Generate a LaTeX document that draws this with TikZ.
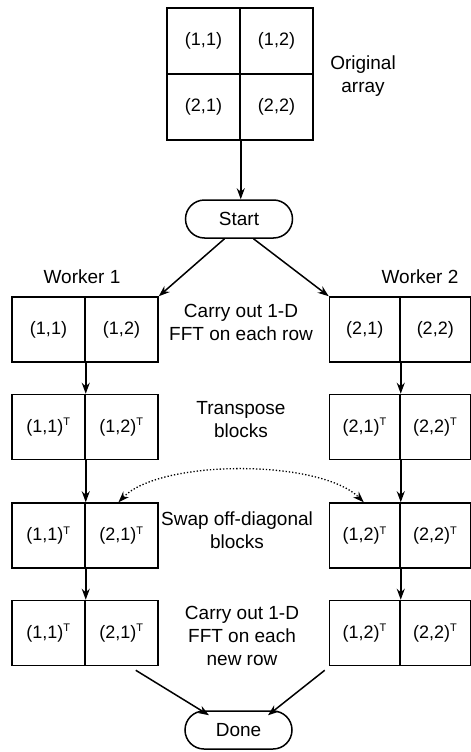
\documentclass[tikz,border=0pt]{standalone}
\usepackage{fontspec}
\setmainfont{Liberation Sans}
\usetikzlibrary{arrows.meta,shapes.misc}
\begin{document}
\begin{tikzpicture}[x=1pt,y=-1pt,
 cell/.style={draw,line width=1.5pt,minimum width=73pt,minimum height=65pt,inner sep=0pt,font=\fontsize{18}{21}\selectfont},
 rcell/.style={cell,minimum width=70.5pt},
 acell/.style={cell,minimum height=66pt},
 term/.style={draw,line width=1.5pt,rounded rectangle,minimum width=107pt,minimum height=38pt,inner sep=0pt,font=\fontsize{19}{22}\selectfont},
 lbl/.style={align=center,font=\fontsize{19}{23}\selectfont},
 arr/.style={line width=1.5pt,-{Stealth[length=11pt,width=8pt]}},
 swap/.style={line width=1.3pt,dotted,{Stealth[length=11pt,width=8pt]}-{Stealth[length=11pt,width=8pt]}},
]
\useasboundingbox (0,0) rectangle (471,752);
\newcommand{\tsup}{\textsuperscript{\fontsize{11}{11}\selectfont T}}
% original array
\node[acell] (a11) at (203.5,41) {(1,1)};
\node[acell] (a12) at (276.5,41) {(1,2)};
\node[acell] (a21) at (203.5,107) {(2,1)};
\node[acell] (a22) at (276.5,107) {(2,2)};
\node[lbl] (orig) at (363,76) {Original\\array};
% start / done
\node[term] (start) at (239,219) {Start};
\node[term] (done) at (238.5,730) {Done};
% worker labels
\node[lbl] (wk1) at (82,277) {Worker 1};
\node[lbl] (wk2) at (420,277) {Worker 2};
% row 1
\node[cell] (l1a) at (48.5,329.5) {(1,1)};
\node[cell] (l1b) at (121.5,329.5) {(1,2)};
\node[rcell] (r1a) at (364.75,329.5) {(2,1)};
\node[rcell] (r1b) at (435.25,329.5) {(2,2)};
\node[lbl] (t1) at (241,322) {Carry out 1-D\\FFT on each row};
% row 2
\node[cell] (l2a) at (48.5,427) {(1,1)\tsup};
\node[cell] (l2b) at (121.5,427) {(1,2)\tsup};
\node[rcell] (r2a) at (364.75,427) {(2,1)\tsup};
\node[rcell] (r2b) at (435.25,427) {(2,2)\tsup};
\node[lbl] (t2) at (241,420) {Transpose\\blocks};
% row 3
\node[cell] (l3a) at (48.5,535.5) {(1,1)\tsup};
\node[cell] (l3b) at (121.5,535.5) {(2,1)\tsup};
\node[rcell] (r3a) at (364.75,535.5) {(1,2)\tsup};
\node[rcell] (r3b) at (435.25,535.5) {(2,2)\tsup};
\node[lbl] (t3) at (237,530) {Swap off-diagonal\\blocks};
% row 4
\node[cell] (l4a) at (48.5,633) {(1,1)\tsup};
\node[cell] (l4b) at (121.5,633) {(2,1)\tsup};
\node[rcell] (r4a) at (364.75,633) {(1,2)\tsup};
\node[rcell] (r4b) at (435.25,633) {(2,2)\tsup};
\node[lbl] (t4) at (242,636) {Carry out 1-D\\FFT on each\\new row};
% arrows
\draw[arr] (a21.south east) -- (a21.south east |- start.north);
\draw[arr] ([xshift=20pt]start.south west) -- (l1b.north east);
\draw[arr] ([xshift=-20pt]start.south east) -- (r1a.north west);
\draw[arr] (l1a.south east) -- (l2a.north east);
\draw[arr] (r1a.south east) -- (r2a.north east);
\draw[arr] (l2a.south east) -- (l3a.north east);
\draw[arr] (r2a.south east) -- (r3a.north east);
\draw[arr] (l3a.south east) -- (l4a.north east);
\draw[arr] (r3a.south east) -- (r4a.north east);
\draw[arr] ([xshift=-23pt,yshift=-4pt]l4b.south east) -- ([xshift=5pt,yshift=-5pt]done.north west);
\draw[arr] ([xshift=-4pt,yshift=-4pt]r4a.south west) -- ([xshift=-5pt,yshift=-5pt]done.north east);
\draw[swap] ([xshift=-3pt]l3b.north) .. controls (160,459) and (320,459) .. ([xshift=-1pt]r3a.north);
\end{tikzpicture}
\end{document}
